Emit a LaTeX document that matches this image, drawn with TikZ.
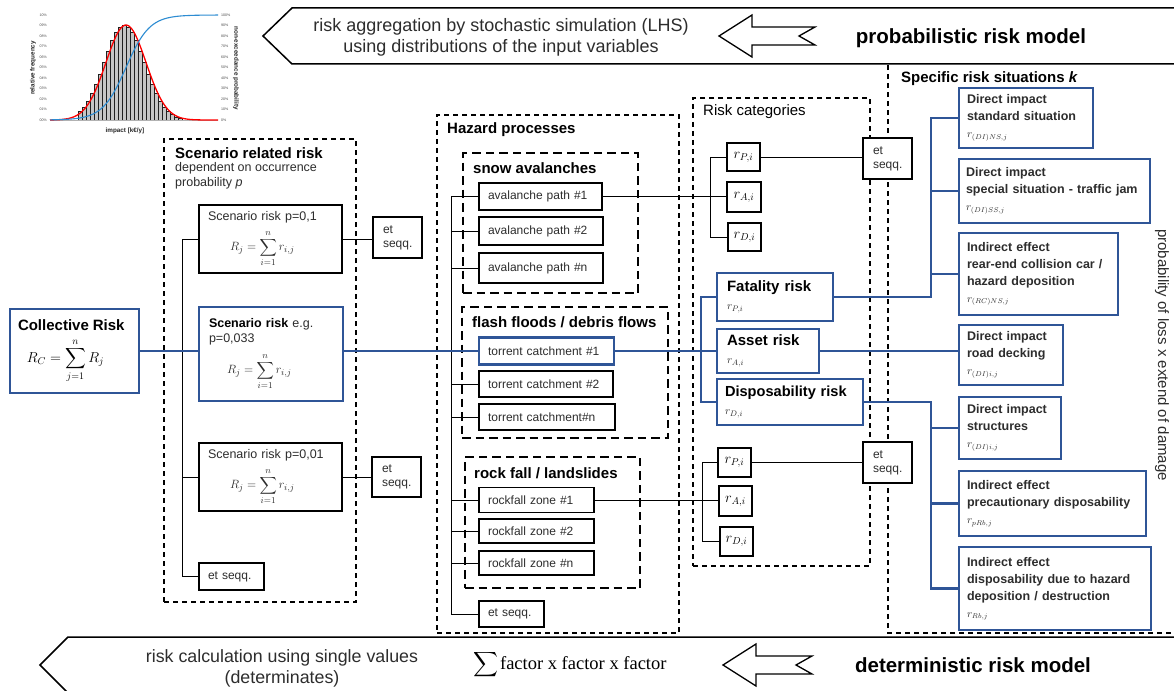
\documentclass[tikz,border=0pt]{standalone}
\usepackage{amsmath}
\usepackage{fontspec}
\setmainfont{Liberation Sans}
\newfontfamily\seriffam{Liberation Serif}
\definecolor{myblue}{RGB}{47,85,151}
\definecolor{txt}{RGB}{45,45,45}
\definecolor{cdfblue}{RGB}{45,140,210}
\newcommand\myfs[2]{\fontsize{#1}{#2}\selectfont}
\newcommand\rline[1]{{\mdseries\myfs{10.5}{17}$#1$}}
\begin{document}
\begin{tikzpicture}[x=1pt,y=-1pt,
 blk/.style={draw=black,fill=white,line width=1.1pt,inner sep=0pt,text=txt,font=\myfs{12}{14}},
 blu/.style={draw=myblue,fill=white,line width=2.7pt,inner sep=0pt,text=black,font=\myfs{12}{14}},
 cont/.style={draw=black,line width=1.4pt,dash pattern=on 5pt off 4pt,inner sep=0pt},
 hcont/.style={draw=black,line width=1.9pt,dash pattern=on 8.5pt off 5pt,inner sep=0pt},
 ttl/.style={anchor=west,inner sep=0pt,font=\bfseries\myfs{15}{18}},
 con/.style={draw=black,line width=0.9pt},
 bcon/.style={draw=myblue,line width=2.7pt},
 spx/.style={blu,align=left,font=\bfseries\myfs{12.5}{17},text=txt},
 rbx/.style={blk,font=\myfs{14}{16},text=black},
 hlab/.style={blk,align=left},
 tick/.style={inner sep=0pt,font=\myfs{3.6}{4},text=gray!60!black},
 arrowshape/.style={draw=black,fill=white,line width=1.3pt,line join=miter}
]
\useasboundingbox (0,0) rectangle (1174,690);
\fill[white] (0,0) rectangle (1174,690);
\clip (0,0) rectangle (1174,690);

% ---------- chart ----------
\foreach \xx in {80,84,...,180}{
  \pgfmathsetmacro\hh{95*exp(-((\xx-124)*(\xx-124))/800)}
  \filldraw[fill=gray!45,draw=gray!25!black,line width=0.4pt] (\xx-1.7,120) rectangle (\xx+1.7,120-\hh);
}
\draw[gray!60,line width=0.4pt] (50,120) -- (218,120);
\draw[red,line width=1.3pt,domain=50:218,samples=90,smooth] plot (\x,{120-95*exp(-((\x-126)*(\x-126))/800)});
\draw[cdfblue,line width=1.1pt,domain=50:218,samples=90,smooth] plot (\x,{120-105/(1+exp(-(\x-126)/11.75))});
\foreach \i/\l in {0/00,1/01,2/02,3/03,4/04,5/05,6/06,7/07,8/08,9/09,10/10}{
  \node[tick,anchor=east] (ll\i) at (47,{120-10.5*\i}) {\l\%};
}
\foreach \i/\l in {0/0,1/10,2/20,3/30,4/40,5/50,6/60,7/70,8/80,9/90,10/100}{
  \node[tick,anchor=west] (rl\i) at (221,{120-10.5*\i}) {\l\%};
}
\node[rotate=90,inner sep=0pt,font=\bfseries\myfs{6.3}{7},text=gray!30!black] (relf) at (33,68) {relative frequency};
\node[rotate=-90,inner sep=0pt,font=\bfseries\myfs{6.3}{7},text=gray!30!black] (nonex) at (236,68) {non-exceedance probability};
\node[inner sep=0pt,font=\bfseries\myfs{6.3}{7},text=gray!30!black] (imp) at (125,131) {impact [k€/y]};

% ---------- banners ----------
\draw[line width=1.5pt,line join=miter] (1180,8) -- (292,8) -- (263,36) -- (292,64) -- (1180,64);
\node[align=center,inner sep=0pt,font=\myfs{18}{21},text=txt] (ptxt) at (501,37) {risk aggregation by stochastic simulation (LHS)\\using distributions of the input variables};
\draw[arrowshape] (719,36) -- (752,15) -- (752,27) -- (815,27) -- (799,36) -- (815,45) -- (752,45) -- (752,57) -- cycle;
\node[inner sep=0pt,font=\bfseries\myfs{20.5}{24}] (pmodel) at (971,38) {probabilistic risk model};

\draw[line width=1.5pt,line join=miter] (1180,637) -- (68,637) -- (40,665) -- (68,693) -- (1180,693);
\node[align=center,inner sep=0pt,font=\myfs{17.8}{21},text=txt] (dtxt) at (282,668) {risk calculation using single values\\(determinates)};
\node[inner sep=0pt] (factors) at (570,665) {{\myfs{17}{22}$\displaystyle\sum$}\,{\seriffam\myfs{18.5}{22}factor x factor x factor}};
\draw[arrowshape] (723,665) -- (756,644) -- (756,656) -- (812,656) -- (796,665) -- (812,674) -- (756,674) -- (756,686) -- cycle;
\node[inner sep=0pt,font=\bfseries\myfs{20.5}{24}] (dmodel) at (973,665) {deterministic risk model};

% ---------- containers ----------
\node[cont,minimum width=192pt,minimum height=463pt] (scen) at (260,370.5) {};
\node[ttl] (scenT) at (175,153) {Scenario related risk};
\node[anchor=north west,inner sep=0pt,align=left,font=\myfs{12.5}{15},text=txt] (scenS) at (175,162) {dependent on occurrence\\probability \textit{p}};

\node[cont,line width=1.2pt,minimum width=242pt,minimum height=518pt] (haz) at (558,374) {};
\node[ttl] (hazT) at (447,130) {Hazard processes};
\node[hcont,minimum width=175pt,minimum height=140pt] (snow) at (550.5,223) {};
\node[ttl] (snowT) at (473,168) {snow avalanches};
\node[hcont,minimum width=206pt,minimum height=131pt] (flash) at (565,372.5) {};
\node[ttl] (flashT) at (472,322) {flash floods / debris flows};
\node[hcont,minimum width=175pt,minimum height=131pt] (rock) at (552.5,522.5) {};
\node[ttl] (rockT) at (474,473) {rock fall / landslides};

\node[cont,line width=1.3pt,minimum width=177pt,minimum height=468pt] (rcat) at (781.5,332) {};
\node[ttl,font=\myfs{15}{18}] (rcatT) at (703,112) {Risk categories};

\draw[cont,line width=1.3pt] (1180,633) -- (888,633) -- (888,64);
\node[ttl] (specT) at (901,79) {Specific risk situations \textit{k}};
\node[rotate=-90,inner sep=0pt,font=\myfs{15}{18},text=txt] (probtxt) at (1162,355) {probability of loss x extend of damage};

% ---------- coordinates for busses ----------
\coordinate (sbus) at (182,0);
\coordinate (hbus) at (451,0);
\coordinate (rbus1) at (710,0);
\coordinate (rbus2) at (702,0);
\coordinate (bbus1) at (701,0);
\coordinate (bbus2) at (931,0);

% ---------- scenario column ----------
\node[blu,minimum width=129pt,minimum height=84pt,text width=113pt,align=left] (coll) at (74.5,351) {{\bfseries\myfs{15}{18}Collective Risk}\\[7pt]\hspace*{9pt}{\myfs{14.5}{17}$\displaystyle R_C=\sum_{j=1}^{n}R_j$}};

\node[blk,minimum width=143pt,minimum height=68pt,text width=125pt,align=left,font=\myfs{12.5}{14}] (s1) at (270.5,239) {Scenario risk p=0,1\\[7pt]\hspace*{22pt}{\myfs{12.5}{15}$\displaystyle R_j=\sum_{i=1}^{n}r_{i,j}$}};
\node[blu,minimum width=144pt,minimum height=94pt,text width=124pt,align=left,font=\myfs{12.5}{15},text=txt] (s2) at (271,354) {{\bfseries\color{black}Scenario risk} e.g.\\p=0,033\\[7pt]\hspace*{18pt}{\myfs{12.5}{15}$\displaystyle R_j=\sum_{i=1}^{n}r_{i,j}$}};
\node[blk,minimum width=143pt,minimum height=68pt,text width=125pt,align=left,font=\myfs{12.5}{14}] (s3) at (270.5,477) {Scenario risk p=0,01\\[7pt]\hspace*{22pt}{\myfs{12.5}{15}$\displaystyle R_j=\sum_{i=1}^{n}r_{i,j}$}};

\node[blk,minimum width=49pt,minimum height=41pt,text width=29pt,align=left] (es1) at (397.5,237.5) {et\\seqq.};
\node[blk,minimum width=49pt,minimum height=40pt,text width=29pt,align=left] (es2) at (396.5,477) {et\\seqq.};
\node[blk,minimum width=65pt,minimum height=27pt,text width=47pt,align=left] (es3) at (231.5,576.5) {et seqq.};

% ---------- hazard boxes ----------
\node[hlab,minimum width=123pt,minimum height=27pt,text width=105pt] (av1) at (540.5,196.5) {avalanche path \#1};
\node[hlab,minimum width=124pt,minimum height=28pt,text width=106pt] (av2) at (541,231) {avalanche path \#2};
\node[hlab,minimum width=124pt,minimum height=30pt,text width=106pt] (avn) at (541,268) {avalanche path \#n};
\node[blu,align=left,text=txt,line width=2.4pt,minimum width=135pt,minimum height=27pt,text width=117pt] (t1) at (546.5,351) {torrent catchment \#1};
\node[hlab,minimum width=134pt,minimum height=26pt,text width=116pt] (t2) at (546,384) {torrent catchment \#2};
\node[hlab,minimum width=136pt,minimum height=26pt,text width=118pt] (tn) at (547,417) {torrent catchment\#n};
\node[hlab,minimum width=115pt,minimum height=25pt,text width=97pt] (r1) at (536.5,500) {rockfall zone \#1};
\node[hlab,minimum width=115pt,minimum height=24pt,text width=97pt] (r2) at (536.5,531) {rockfall zone \#2};
\node[hlab,minimum width=115pt,minimum height=24pt,text width=97pt] (rn) at (536.5,563) {rockfall zone \#n};
\node[hlab,minimum width=65pt,minimum height=26pt,text width=47pt] (hes) at (511.5,614) {et seqq.};

% ---------- risk category boxes ----------
\node[rbx,minimum width=33pt,minimum height=28pt] (rP1) at (743.5,157) {$r_{P,i}$};
\node[rbx,minimum width=34pt,minimum height=30pt] (rA1) at (744,197) {$r_{A,i}$};
\node[rbx,minimum width=33pt,minimum height=28pt] (rD1) at (744.5,237) {$r_{D,i}$};
\node[blk,minimum width=49pt,minimum height=41pt,text width=29pt,align=left] (es4) at (887.5,158.5) {et\\seqq.};

\node[rbx,minimum width=33pt,minimum height=29pt] (rP2) at (734.5,462.5) {$r_{P,i}$};
\node[rbx,minimum width=33pt,minimum height=30pt] (rA2) at (735.5,501) {$r_{A,i}$};
\node[rbx,minimum width=33pt,minimum height=29pt] (rD2) at (736.5,541.5) {$r_{D,i}$};
\node[blk,minimum width=49pt,minimum height=41pt,text width=29pt,align=left] (es5) at (887.5,462.5) {et\\seqq.};

\node[blu,minimum width=116pt,minimum height=48pt,text width=96pt,align=left,font=\myfs{15}{18}] (fat) at (775,297) {\textbf{Fatality risk}\\{\myfs{11}{14}\color{txt}$r_{P,i}$}};
\node[blu,minimum width=102pt,minimum height=44pt,text width=82pt,align=left,font=\myfs{15}{18}] (ass) at (768,351) {\textbf{Asset risk}\\{\myfs{11}{14}\color{txt}$r_{A,i}$}};
\node[blu,minimum width=146pt,minimum height=46pt,text width=130pt,align=left,font=\myfs{14.6}{18}] (dis) at (790,402) {\textbf{Disposability risk}\\{\myfs{11}{14}\color{txt}$r_{D,i}$}};

% ---------- specific situations ----------
\node[spx,minimum width=134pt,minimum height=60pt,text width=118pt] (sp1) at (1026,118) {Direct impact\\standard situation\\\rline{r_{(DI)NS,j}}};
\node[spx,minimum width=191pt,minimum height=64pt,text width=177pt] (sp2) at (1054.5,191) {Direct impact\\special situation - traffic jam\\\rline{r_{(DI)SS,j}}};
\node[spx,minimum width=159pt,minimum height=82pt,text width=143pt] (sp3) at (1038.5,274) {Indirect effect\\rear-end collision car /\\hazard deposition\\\rline{r_{(RC)NS,j}}};
\node[spx,minimum width=104pt,minimum height=60pt,text width=88pt] (sp4) at (1011,355) {Direct impact\\road decking\\\rline{r_{(DI)i,j}}};
\node[spx,minimum width=102pt,minimum height=62pt,text width=86pt] (sp5) at (1010,428) {Direct impact\\structures\\\rline{r_{(DI)i,j}}};
\node[spx,minimum width=187pt,minimum height=65pt,text width=171pt] (sp6) at (1052.5,503.5) {Indirect effect\\precautionary disposability\\\rline{r_{pRb,j}}};
\node[spx,minimum width=192pt,minimum height=83pt,text width=176pt] (sp7) at (1055,588.5) {Indirect effect\\disposability due to hazard\\deposition / destruction\\\rline{r_{Rb,j}}};

% ---------- connectors (black) ----------
\draw[con] (s1.west) -- (s1.west -| sbus) |- (es3.west);
\draw[con] (s3.west) -- (s3.west -| sbus);
\draw[con] (s1.east) -- (s1.east -| es1.west);
\draw[con] (s3.east) -- (s3.east -| es2.west);

\draw[con] (av1.west) -- (av1.west -| hbus) |- (hes.west);
\foreach \n in {av2,avn,t2,tn,r1,r2,rn}{
  \draw[con] (\n.west) -- (\n.west -| hbus);
}
\draw[con] (av1.east) -- (av1.east -| rA1.west);
\draw[con] (r1.east) -- (r1.east -| rA2.west);

\draw[con] (rP1.west) -- (rP1.west -| rbus1) |- (rD1.west);
\draw[con] (rP1.east) -- (rP1.east -| es4.west);
\draw[con] (rP2.west) -- (rP2.west -| rbus2) |- (rD2.west);
\draw[con] (rP2.east) -- (rP2.east -| es5.west);

% ---------- connectors (blue) ----------
\draw[bcon] (coll.east) -- (coll.east -| s2.west);
\draw[bcon] (t1.west -| s2.east) -- (t1.west);
\draw[bcon] (t1.east) -- (t1.east -| ass.west);
\draw[bcon] (fat.west) -- (fat.west -| bbus1) |- (dis.west);
\draw[bcon] (fat.east) -- (fat.east -| bbus2) |- (sp1.west);
\draw[bcon] (sp2.west) -- (sp2.west -| bbus2);
\draw[bcon] (sp3.west) -- (sp3.west -| bbus2);
\draw[bcon] (ass.east) -- (ass.east -| sp4.west);
\draw[bcon] (dis.east) -- (dis.east -| bbus2) |- (sp7.west);
\draw[bcon] (sp5.west) -- (sp5.west -| bbus2);
\draw[bcon] (sp6.west) -- (sp6.west -| bbus2);
\end{tikzpicture}
\end{document}
